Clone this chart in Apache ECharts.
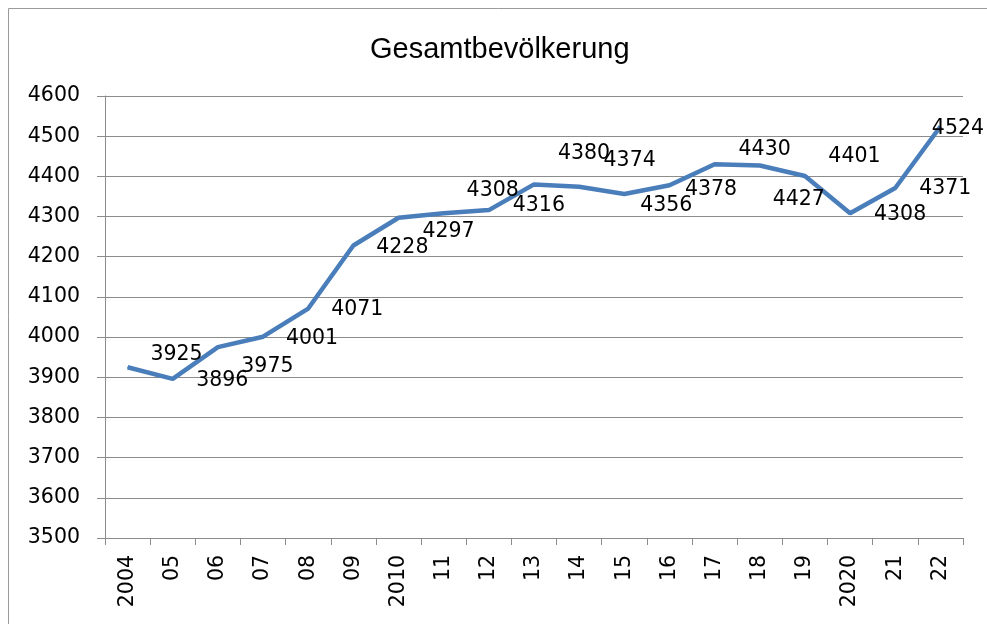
<!DOCTYPE html>
<html>
<head>
<meta charset="utf-8">
<title>Gesamtbevölkerung</title>
<script src="https://cdn.jsdelivr.net/npm/echarts@6/dist/echarts.min.js"></script>
<style>
    html, body { margin: 0; padding: 0; background: #fff; }
    #main { width: 987px; height: 624px; }
</style>
</head>
<body>
<div id="main"></div>
<script>
var years = ['2004', '05', '06', '07', '08', '09', '2010', '11', '12', '13',
    '14', '15', '16', '17', '18', '19', '2020', '21', '22'];
var population = [3925, 3896, 3975, 4001, 4071, 4228, 4297, 4308, 4316, 4380,
    4374, 4356, 4378, 4430, 4427, 4401, 4308, 4371, 4524];

// the labels in the original were moved by hand, so nudge each one (px)
var labelShift = [[49, -13], [49.5, 2], [49.5, 20], [49, 1.5], [49, 1.5], [49, 2],
    [50, 14], [49, -23], [50, -4], [50, -31], [50.5, -26], [42, 12], [41.5, 4],
    [50, -14.5], [39, 34], [49.5, -19], [50, 1], [50, 1], [17.5, 2]];

var seriesData = [];
for (var i = 0; i < population.length; i++) {
    seriesData.push({
        value: population[i],
        label: { offset: labelShift[i] }
    });
}

var chart = echarts.init(document.getElementById('main'));
var gray = '#8c8c8c';

var option = {
    backgroundColor: '#fff',
    animation: false,
    title: {
        text: 'Gesamtbevölkerung',
        left: 370,
        top: 35,
        padding: 0,
        textStyle: {
            fontFamily: 'Liberation Sans',
            fontSize: 29,
            fontWeight: 'normal',
            color: '#000'
        }
    },
    graphic: [{
        type: 'rect',
        shape: { x: 8.5, y: 8.5, width: 1100, height: 800 },
        style: { fill: 'none', stroke: '#9a9a9a', lineWidth: 1 },
        silent: true
    }],
    grid: {
        left: 105,
        right: 24,
        top: 96,
        bottom: 86
    },
    xAxis: {
        type: 'category',
        data: years,
        boundaryGap: true,
        axisLine: { lineStyle: { color: gray, width: 1 } },
        axisTick: { show: true, length: 7, lineStyle: { color: gray } },
        axisLabel: {
            rotate: 90,
            margin: 17,
            interval: 0,
            fontFamily: 'DejaVu Sans',
            fontSize: 20.5,
            color: '#000'
        }
    },
    yAxis: {
        type: 'value',
        min: 3500,
        max: 4600,
        interval: 100,
        axisLine: { show: true, lineStyle: { color: gray, width: 1 } },
        axisTick: { show: true, length: 8, lineStyle: { color: gray } },
        axisLabel: {
            margin: 25,
            formatter: function(v) { return String(v); },
            fontFamily: 'DejaVu Sans',
            fontSize: 20.5,
            color: '#000'
        },
        splitLine: { lineStyle: { color: gray, width: 1 } }
    },
    series: [{
        type: 'line',
        data: seriesData,
        symbol: 'circle',
        symbolSize: 1,
        showSymbol: true,
        lineStyle: { color: '#4a7ebb', width: 4.5 },
        itemStyle: { color: '#4a7ebb' },
        label: {
            show: true,
            position: 'inside',
            fontFamily: 'DejaVu Sans',
            fontSize: 20.5,
            color: '#000'
        }
    }]
};

chart.setOption(option);
window.addEventListener('resize', function() {
    chart.resize();
});
</script>
</body>
</html>
